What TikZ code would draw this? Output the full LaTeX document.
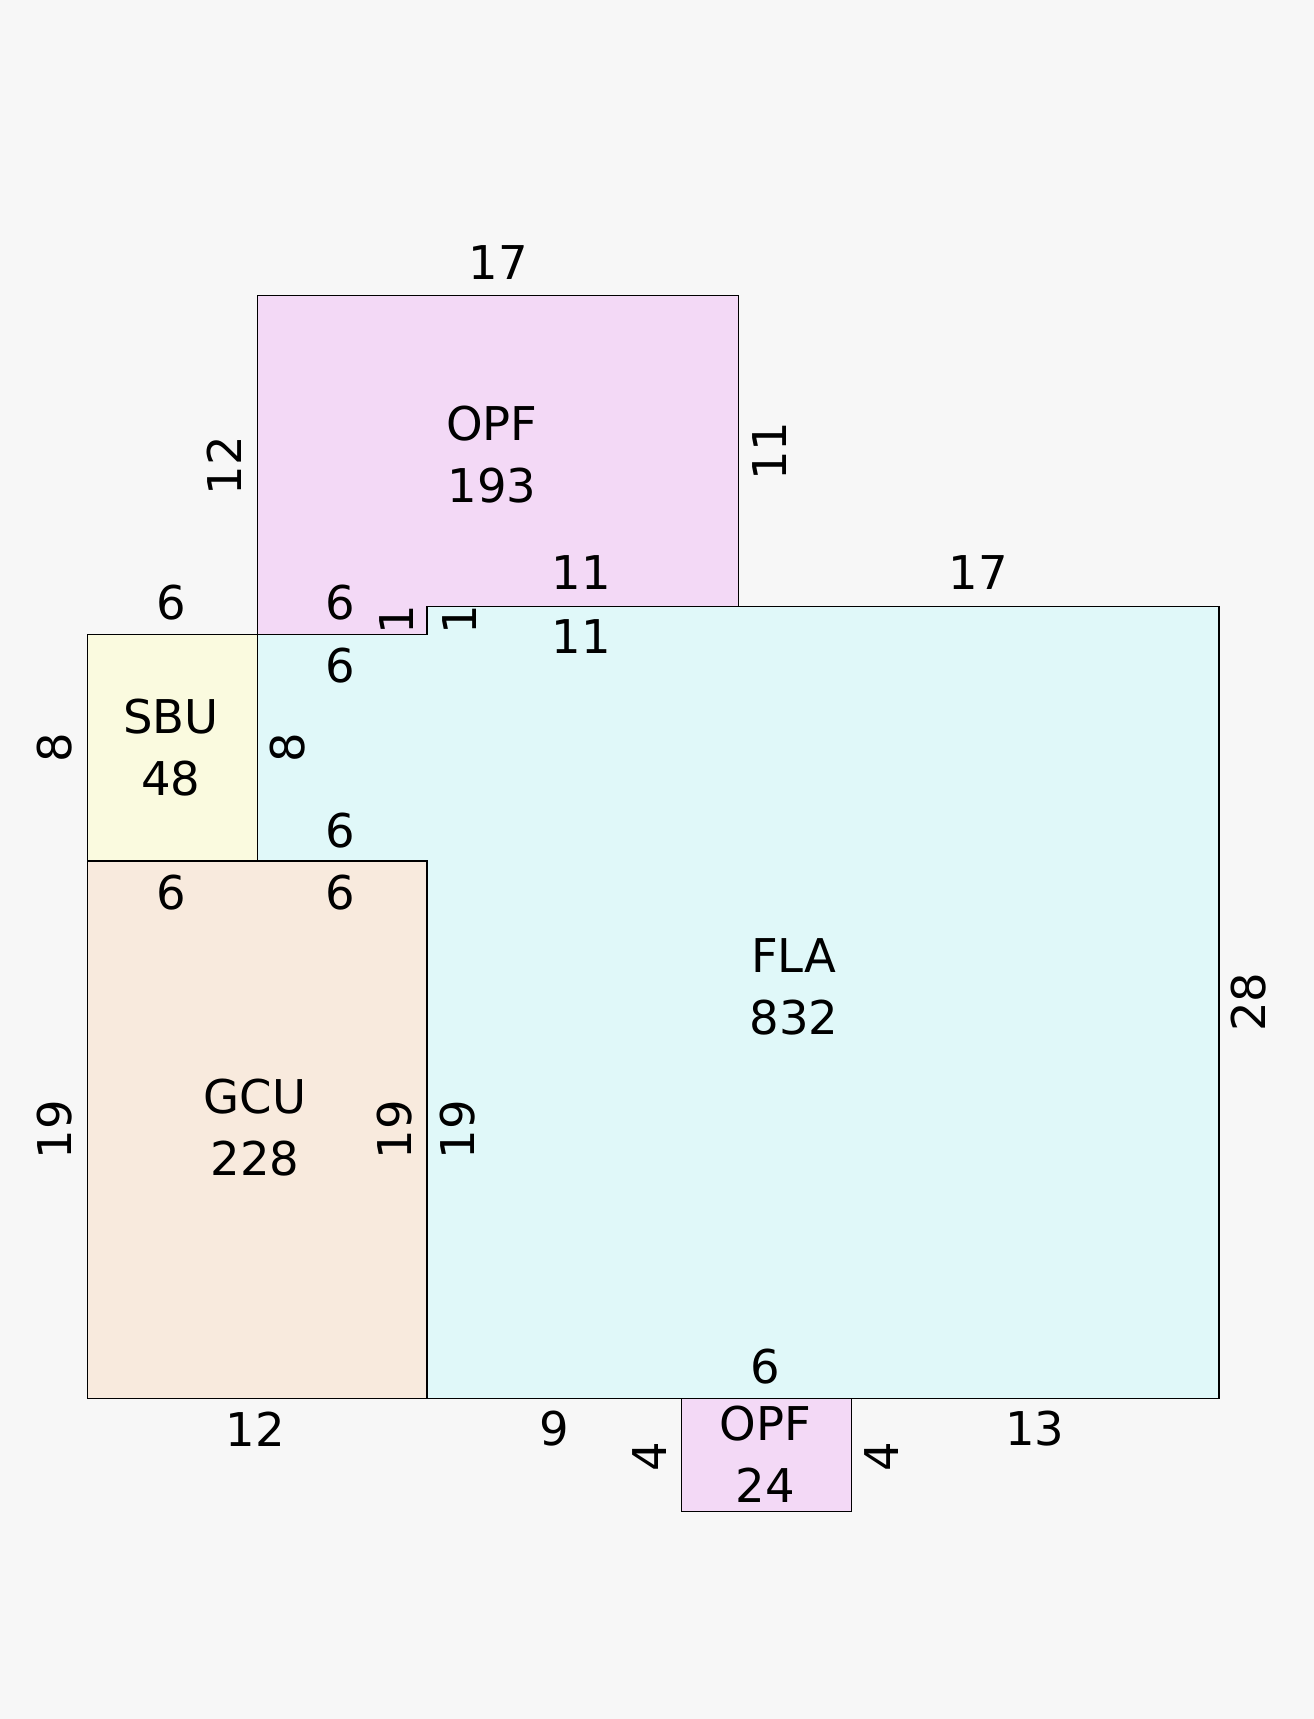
\documentclass[tikz,border=0pt]{standalone}
\usepackage{fontspec}
\setmainfont{DejaVu Sans}
\usepackage{tikz}
\definecolor{bgcol}{HTML}{F7F7F7}
\definecolor{flacol}{HTML}{E0F8F9}
\definecolor{opfcol}{HTML}{F3D9F6}
\definecolor{sbucol}{HTML}{FAFADF}
\definecolor{gcucol}{HTML}{F8EADD}

\begin{document}
\begin{tikzpicture}[x=0.5cm, y=0.5cm,
    room/.style={draw=black, line width=0.6pt},
    dim/.style={inner sep=0pt, font=\fontsize{23.4}{31.4}\selectfont},
    rdim/.style={dim, rotate=90},
    area/.style={dim, align=center}]
            % sheet
            \fill[bgcol] (-3.1,-11.34) rectangle (43.36,49.44);
            % rooms
            \draw[room, fill=flacol] (12,0) -- (40,0) -- (40,28) -- (12,28) -- (12,27) -- (6,27) -- (6,19) -- (12,19) -- cycle;
            \draw[room, fill=opfcol] (6,27) -- (12,27) -- (12,28) -- (23,28) -- (23,39) -- (6,39) -- cycle;
            \draw[room, fill=sbucol] (0,19) rectangle (6,27);
            \draw[room, fill=gcucol] (0,0) rectangle (12,19);
            \draw[room, fill=opfcol] (21,-4) rectangle (27,0);
            % areas
            \node[area] (opfa) at (14.29,33.36) {OPF\\193};
            \node[area] (sbua) at (2.94,23.0) {SBU\\48};
            \node[area] (gcua) at (5.92,9.57) {GCU\\228};
            \node[area] (flaa) at (24.97,14.54) {FLA\\832};
            \node[area] (opfb) at (23.96,-1.98) {OPF\\24};
            % dimensions
            \node[dim] (d1) at (14.52,40.15) {17};
            \node[rdim] (d2) at (4.84,32.98) {12};
            \node[rdim] (d3) at (24.12,33.49) {11};
            \node[dim] (d4) at (17.46,29.19) {11};
            \node[dim] (d5) at (17.46,26.95) {11};
            \node[dim] (d6) at (31.48,29.19) {17};
            \node[dim] (d7) at (2.94,28.15) {6};
            \node[dim] (d8) at (8.94,28.15) {6};
            \node[rdim] (d9) at (10.92,27.53) {1};
            \node[rdim] (d10) at (13.16,27.53) {1};
            \node[dim] (d11) at (8.94,25.9) {6};
            \node[rdim] (d12) at (-1.16,23.0) {8};
            \node[rdim] (d13) at (7.05,23.0) {8};
            \node[dim] (d14) at (8.94,20.09) {6};
            \node[dim] (d15) at (2.94,17.89) {6};
            \node[dim] (d16) at (8.94,17.89) {6};
            \node[rdim] (d17) at (41.04,14.01) {28};
            \node[rdim] (d18) at (-1.16,9.49) {19};
            \node[rdim] (d19) at (10.84,9.49) {19};
            \node[rdim] (d20) at (13.09,9.49) {19};
            \node[dim] (d21) at (23.96,1.12) {6};
            \node[dim] (d22) at (5.92,-1.08) {12};
            \node[dim] (d23) at (16.49,-1.08) {9};
            \node[dim] (d24) at (33.49,-1.08) {13};
            \node[rdim] (d25) at (19.86,-2.05) {4};
            \node[rdim] (d26) at (28.07,-2.05) {4};
        \end{tikzpicture}
\end{document}
